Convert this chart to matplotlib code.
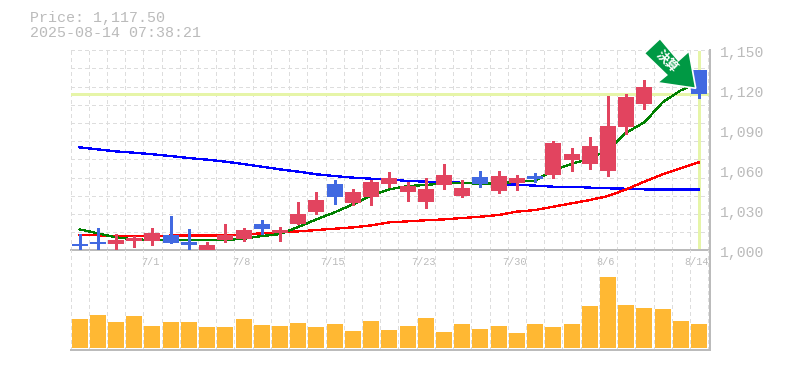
import numpy as np
import matplotlib
matplotlib.use("Agg")
import matplotlib.pyplot as plt
from matplotlib.patches import Polygon

######################### Data #############################

# o/h/l/c. Candles 33 and 34 sit under the arrow, so they are guesses.
opens = [1004.7, 1006.2, 1004.7, 1007.0, 1007.0, 1011.2, 1006.2, 1000.2, 1007.5, 1008.5,
         1019.7, 1012.9, 1019.7, 1028.7, 1049.7, 1035.5, 1040.0, 1049.7, 1043.7, 1036.2,
         1049.0, 1040.7, 1055.0, 1044.5, 1050.5, 1055.7, 1056.5, 1067.7, 1064.7, 1059.5,
         1092.5, 1109.7, 1140.5, 1128.0, 1135.2]
highs = [1012.0, 1016.5, 1012.0, 1010.7, 1016.7, 1025.7, 1016.0, 1006.2, 1019.7, 1016.7,
         1022.7, 1017.5, 1036.2, 1043.7, 1052.7, 1046.0, 1052.7, 1058.7, 1051.2, 1054.2,
         1064.7, 1052.7, 1059.5, 1059.5, 1056.5, 1058.0, 1082.0, 1076.7, 1085.0, 1115.7,
         1117.2, 1127.7, 1147.0, 1139.0, 1135.2]
lows = [1000.0, 1001.2, 1000.0, 1002.5, 1004.0, 1005.5, 1000.2, 1000.0, 1006.2, 1007.0,
        1012.2, 1007.0, 1019.7, 1027.2, 1034.7, 1034.0, 1034.0, 1047.5, 1037.0, 1031.7,
        1046.0, 1040.0, 1047.5, 1043.0, 1045.2, 1051.2, 1054.2, 1059.5, 1061.0, 1055.7,
        1087.2, 1106.0, 1140.0, 1126.0, 1114.2]
closes = [1003.2, 1004.7, 1007.5, 1009.2, 1013.0, 1005.5, 1004.0, 1004.0, 1011.2, 1015.2,
          1016.0, 1015.2, 1027.2, 1037.7, 1040.0, 1043.7, 1051.2, 1054.2, 1048.2, 1046.0,
          1056.5, 1046.7, 1049.7, 1055.7, 1054.2, 1053.5, 1080.5, 1072.2, 1078.2, 1093.2,
          1115.0, 1122.5, 1146.0, 1136.0, 1117.5]

ma_short = [1015.7, 1012.7, 1009.7, 1008.2, 1007.7, 1007.5, 1007.5, 1007.5, 1007.7, 1008.7,
            1010.7, 1012.2, 1017.5, 1023.2, 1028.5, 1034.5, 1041.0, 1045.7, 1048.2, 1049.0,
            1050.2, 1050.5, 1050.0, 1050.0, 1051.5, 1052.2, 1060.2, 1064.7, 1069.0, 1075.0,
            1088.2, 1096.0, 1111.0, 1120.0, 1126.0]
ma_mid = [1011.7, 1011.2, 1010.5, 1010.5, 1010.7, 1011.0, 1011.0, 1011.0, 1011.2, 1012.0,
          1012.7, 1013.5, 1014.2, 1015.2, 1016.2, 1017.2, 1018.7, 1021.0, 1021.7, 1022.5,
          1023.2, 1024.2, 1025.2, 1026.5, 1029.0, 1030.2, 1032.7, 1035.2, 1037.7, 1040.7,
          1045.7, 1051.5, 1057.0, 1061.5, 1066.0]
ma_long = [1077.2, 1075.7, 1074.2, 1073.2, 1072.0, 1070.7, 1069.2, 1068.0, 1066.5, 1064.7,
           1062.7, 1060.7, 1059.0, 1057.0, 1055.7, 1054.5, 1053.7, 1053.2, 1052.0, 1051.5,
           1051.0, 1050.7, 1050.2, 1049.7, 1049.2, 1048.5, 1047.7, 1047.7, 1047.0, 1046.5,
           1046.2, 1045.7, 1045.7, 1045.7, 1045.7]

volumes = [29, 33, 26, 32, 22, 26, 26, 21, 21, 29, 23, 22, 25, 21, 24, 17, 27, 18,
           22, 30, 16, 24, 19, 22, 15, 24, 21, 24, 42, 71, 43, 40, 39, 27, 24]

price_ticks = [1000, 1030, 1060, 1090, 1120, 1150]
price_labels = ["1,000", "1,030", "1,060", "1,090", "1,120", "1,150"]
date_pos = [4, 9, 14, 19, 24, 29, 34]
date_labels = ["7/1", "7/8", "7/15", "7/23", "7/30", "8/6", "8/14"]
last_price = 1117.5
title_lines = ["Price: 1,117.50", "2025-08-14 07:38:21"]
arrow_label = "決算"

######################### Style #############################

W, H = 785, 370
GRAY = "#bbbbbb"
GRID = "#dddddd"
UP = "#e2445f"
DOWN = "#4169e1"
HILITE = "#e6f5a8"
PX = 0.72  # one pixel in points at dpi 100
MONO = "Liberation Mono"

def px_axes(fig, left, top, right, bottom):
    return fig.add_axes([left / W, 1 - bottom / H, (right - left) / W, (bottom - top) / H])

def style_axes(ax):
    ax.set_xlim(-0.5, 34.6)
    ax.set_xticks(np.arange(-0.5, 34.6, 1))
    ax.tick_params(length=0, labelbottom=False, labelleft=False)
    ax.grid(axis="x", color=GRID, lw=PX, ls=(0, (3, 3)), antialiased=False)
    ax.set_axisbelow(True)
    ax.patch.set_alpha(0)
    for side in ["left", "top"]:
        ax.spines[side].set_visible(False)
    for side in ["right", "bottom"]:
        ax.spines[side].set_color(GRAY)
        ax.spines[side].set_linewidth(2 * PX)

######################### Plotting #########################

fig = plt.figure(figsize=(W / 100, H / 100), dpi=100)
x = np.arange(len(opens))
colors = [UP if c >= o else DOWN for o, c in zip(opens, closes)]

ax = px_axes(fig, 70.5, 50.3, 710, 250.3)
style_axes(ax)
ax.set_ylim(1000, 1150)
ax.set_yticks(np.linspace(1000, 1150, 12))
ax.grid(axis="y", color=GRID, lw=PX, ls=(0, (3, 3)), antialiased=False)

# current price cross
ax.axhline(last_price, color=HILITE, lw=3 * PX, zorder=1.5, antialiased=False)
ax.axvline(x[-1], ymax=0.99, color=HILITE, lw=3 * PX, zorder=1.5, antialiased=False)

ax.plot(x, ma_long, color="#0000ff", lw=PX * 1.3, zorder=2, antialiased=False)
ax.plot(x, ma_mid, color="#ff0000", lw=PX * 1.3, zorder=2, antialiased=False)
ax.plot(x, ma_short, color="#008000", lw=PX * 1.3, zorder=2, antialiased=False)

bottoms = np.minimum(opens, closes)
heights = np.abs(np.array(opens) - np.array(closes))
ax.vlines(x, lows, highs, colors=colors, lw=PX * 1.3, zorder=3, antialiased=False)
ax.bar(x, heights, bottom=bottoms, width=0.878, color=colors, zorder=3, antialiased=False)

for v, label in zip(price_ticks, price_labels):
    ax.annotate(label, (1, v), xycoords=("axes fraction", "data"), xytext=(10, -3),
                textcoords="offset pixels", ha="left", va="center", color=GRAY,
                family=MONO, fontsize=10.6, annotation_clip=False)
for p, label in zip(date_pos, date_labels):
    ax.annotate(label, (p, 0), xycoords=("data", "axes fraction"), xytext=(-2, -12),
                textcoords="offset pixels", ha="center", va="center", color=GRAY,
                family=MONO, fontsize=7.4, annotation_clip=False)

vol_ax = px_axes(fig, 70.5, 250.3, 710, 350.3)
style_axes(vol_ax)
vol_ax.set_ylim(-2.3, 97.7)
vol_ax.set_yticks([])
vol_ax.bar(x, volumes, width=0.878, color="#ffb833", zorder=3, antialiased=False)

# overlay in pixel coordinates for the header and the marker arrow
over = fig.add_axes([0, 0, 1, 1], zorder=10)
over.set_xlim(0, W)
over.set_ylim(H, 0)
over.axis("off")
for line, y in zip(title_lines, [18, 33]):
    over.text(30, y, line, color=GRAY, family=MONO, fontsize=10.8, ha="left", va="center")

arrow_pts = [(660, 38.5), (678.5, 60.5), (689, 51), (695.7, 88.3), (657.3, 82.7),
             (666.7, 75), (644.3, 53.3)]
over.add_patch(Polygon(arrow_pts, closed=True, facecolor="#009944", edgecolor="white",
                       lw=1.2, joinstyle="miter"))
over.text(666.5, 62, arrow_label, color="white", family="Noto Sans CJK JP", weight="bold",
          fontsize=9, rotation=-45, rotation_mode="anchor", ha="center", va="center")

fig.savefig("out.png", dpi=100)
